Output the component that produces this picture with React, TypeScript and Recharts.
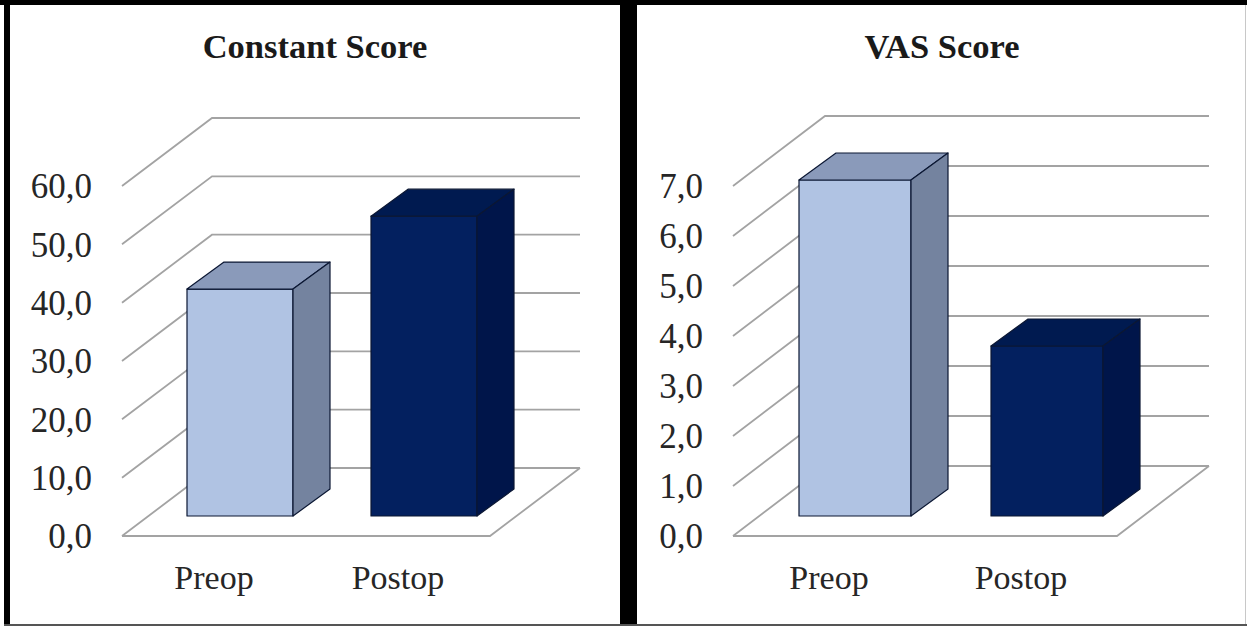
import React from 'react';
import { BarChart, Bar, XAxis, YAxis, CartesianGrid } from 'recharts';

const categories = ['Preop', 'Postop'];
const constantValues = [38.9, 51.4];
const vasValues = [6.72, 3.4];
const constantTicks = [0, 10, 20, 30, 40, 50, 60];
const vasTicks = [0, 1, 2, 3, 4, 5, 6, 7];

const FONT = '"Liberation Serif", "Times New Roman", serif';
const GRID_COLOR = '#a3a3a3';
const TEXT_COLOR = '#262626';

// front, top, side
const barPalettes = [
  ['#b0c3e3', '#8a9aba', '#74839f'],
  ['#03205f', '#001a50', '#00154a'],
];

const toRows = (values: number[]) => categories.map((name, i) => ({ name, value: values[i] }));
const formatTick = (v: number) => v.toFixed(1).replace('.', ',');

interface PanelProps {
  title: string;
  values: number[];
  ticks: number[];
  left: number;
  width: number;
  plotRight: number; // margin right of the front floor edge
  axisWidth: number;
  barSize: number;
  wallX: number;
  wallY: number;
  titleX: number;
}

const PANEL_TOP = 5;
const PANEL_HEIGHT = 619;

// The front of the cube sits part way into the floor, so it is shifted off the axis plane
const Bar3D = (props: any) => {
  const { x, y, width, height, index } = props;
  const [front, top, side] = barPalettes[index];
  const fx = x + 26;
  const fy = y - 20;
  const dx = 37;
  const dy = 27;
  const outline = { stroke: '#0b1733', strokeWidth: 1.2, strokeLinejoin: 'round' as const };
  return (
    <g>
      <rect x={fx} y={fy} width={width} height={height} fill={front} {...outline} />
      <polygon
        points={`${fx},${fy} ${fx + dx},${fy - dy} ${fx + width + dx},${fy - dy} ${fx + width},${fy}`}
        fill={top}
        {...outline}
      />
      <polygon
        points={`${fx + width},${fy} ${fx + width + dx},${fy - dy} ${fx + width + dx},${fy + height - dy} ${fx + width},${fy + height}`}
        fill={side}
        {...outline}
      />
    </g>
  );
};

const Panel: React.FC<PanelProps> = ({
  title, values, ticks, left, width, plotRight, axisWidth, barSize, wallX, wallY, titleX,
}) => {
  const renderGridLine = (line: any) => {
    const { x1, x2, y1 } = line;
    const isFloor = line.index === 0 || y1 > 500;
    const style = { stroke: GRID_COLOR, strokeWidth: 1.8, fill: 'none' };
    return (
      <g key={line.key ?? y1}>
        <polyline
          points={`${x1},${y1} ${x1 + wallX},${y1 - wallY} ${x2 + wallX},${y1 - wallY}`}
          {...style}
        />
        {isFloor && (
          <polyline
            points={`${x1},${y1} ${x2},${y1} ${x2 + wallX},${y1 - wallY}`}
            {...style}
          />
        )}
      </g>
    );
  };

  return (
    <div style={{ position: 'absolute', left, top: PANEL_TOP, width, height: PANEL_HEIGHT, background: '#fff' }}>
      <BarChart
        width={width}
        height={PANEL_HEIGHT}
        data={toRows(values)}
        margin={{ top: 181, right: plotRight, bottom: 38, left: 0 }}
        barCategoryGap={0}
      >
        <text
          x={titleX}
          y={53}
          textAnchor="middle"
          style={{ fontFamily: FONT, fontSize: 34.5, fontWeight: 700, fill: '#1a1a1a' }}
        >
          {title}
        </text>
        <CartesianGrid vertical={false} horizontal={renderGridLine} />
        <XAxis
          dataKey="name"
          height={50}
          axisLine={false}
          tickLine={false}
          tickMargin={23}
          tick={{ fontFamily: FONT, fontSize: 34, fill: TEXT_COLOR }}
        />
        <YAxis
          width={axisWidth}
          domain={[ticks[0], ticks[ticks.length - 1]]}
          ticks={ticks}
          interval={0}
          axisLine={false}
          tickLine={false}
          tickMargin={24}
          tickFormatter={formatTick}
          tick={{ fontFamily: FONT, fontSize: 35, fill: TEXT_COLOR }}
        />
        <Bar dataKey="value" barSize={barSize} shape={<Bar3D />} isAnimationActive={false} />
      </BarChart>
    </div>
  );
};

const strip = (left: number, top: number, width: number, height: number, background: string) => (
  <div style={{ position: 'absolute', left, top, width, height, background }} />
);

export default function App() {
  return (
    <div style={{ position: 'absolute', left: 0, top: 0, width: 1247, height: 626, background: '#fff', overflow: 'hidden' }}>
      <Panel
        title="Constant Score"
        values={constantValues}
        ticks={constantTicks}
        left={10}
        width={610}
        plotRight={130}
        axisWidth={112}
        barSize={106}
        wallX={90}
        wallY={68}
        titleX={305}
      />
      <Panel
        title="VAS Score"
        values={vasValues}
        ticks={vasTicks}
        left={638}
        width={609}
        plotRight={130}
        axisWidth={95}
        barSize={112}
        wallX={92}
        wallY={70}
        titleX={304}
      />
      {strip(0, 0, 1247, 5, '#000')}
      {strip(4, 0, 6, 626, '#000')}
      {strip(620, 0, 17, 626, '#000')}
      {strip(4, 624, 1243, 2, '#555')}
      {strip(1245, 5, 1, 619, '#c8c8c8')}
    </div>
  );
}
